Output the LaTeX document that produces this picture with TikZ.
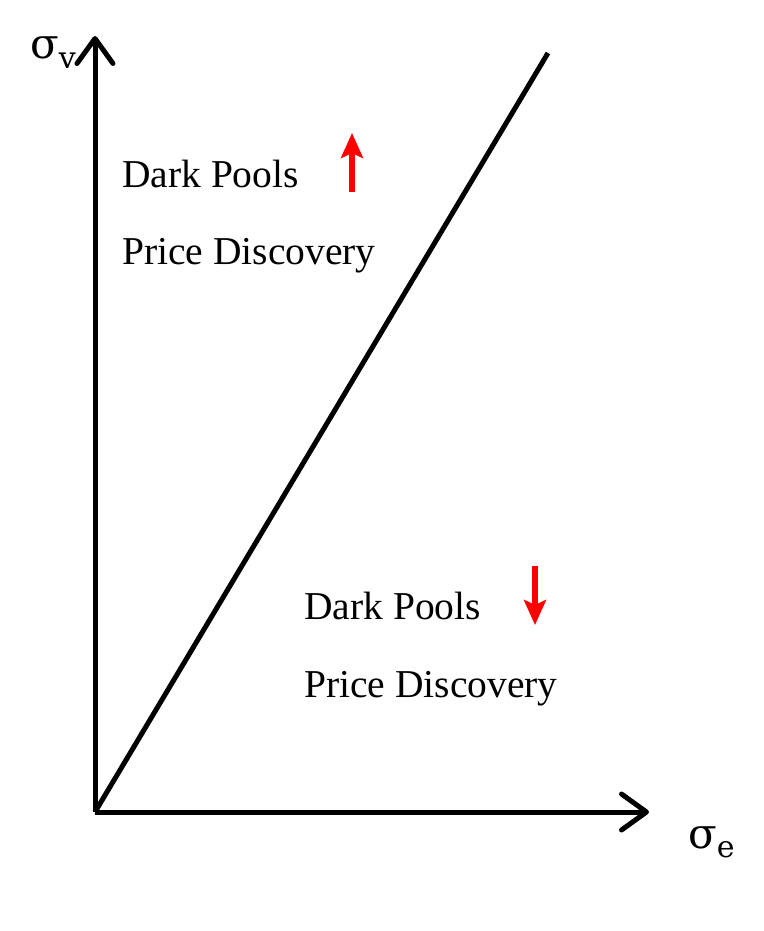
\documentclass[tikz,border=0pt]{standalone}
\usepackage{fontspec}
\setmainfont{Liberation Serif}
\newfontfamily\sigfont{DejaVu Serif}
\usetikzlibrary{arrows.meta}
\tikzset{
  axis/.style={line width=5pt, -{Straight Barb[length=25pt,width=36pt,line width=5pt,round]}},
  diag/.style={line width=5pt},
  redarrow/.style={draw=red, line width=5.5pt, -{Triangle[length=25pt,width=22pt,inset=5pt]}, red},
  lbl/.style={anchor=base west, inner sep=0pt, font=\fontsize{39.5}{41}\selectfont},
  sig/.style={anchor=base west, inner sep=0pt}
}
\begin{document}
\begin{tikzpicture}[x=1pt,y=-1pt]
\useasboundingbox (0,0) rectangle (763,931);
\coordinate (O) at (95,812);
\coordinate (ytop) at (95,36);
\coordinate (xend) at (649,812);
\coordinate (dtop) at (548,53);
\draw[axis] (O) -- (ytop);
\draw[axis] (O) -- (xend);
\draw[diag] (O) -- (dtop);
\node[sig] (sv) at (30,59) {\sigfont\fontsize{42}{44}\selectfont σ\raisebox{-10pt}{\fontsize{30}{32}\selectfont v}};
\node[sig] (se) at (688,848) {\sigfont\fontsize{42}{44}\selectfont σ\raisebox{-9pt}{\fontsize{30}{32}\selectfont e}};
\node[lbl] (dp1) at (122,187) {Dark Pools};
\node[lbl] (pd1) at (122,264) {Price Discovery};
\node[lbl] (dp2) at (304,619) {Dark Pools};
\node[lbl] (pd2) at (304,697) {Price Discovery};
\coordinate (u1) at (352,192);
\coordinate (u2) at (352,133);
\coordinate (d1) at (535,566);
\coordinate (d2) at (535,625);
\draw[redarrow] (u1) -- (u2);
\draw[redarrow] (d1) -- (d2);
\end{tikzpicture}
\end{document}
